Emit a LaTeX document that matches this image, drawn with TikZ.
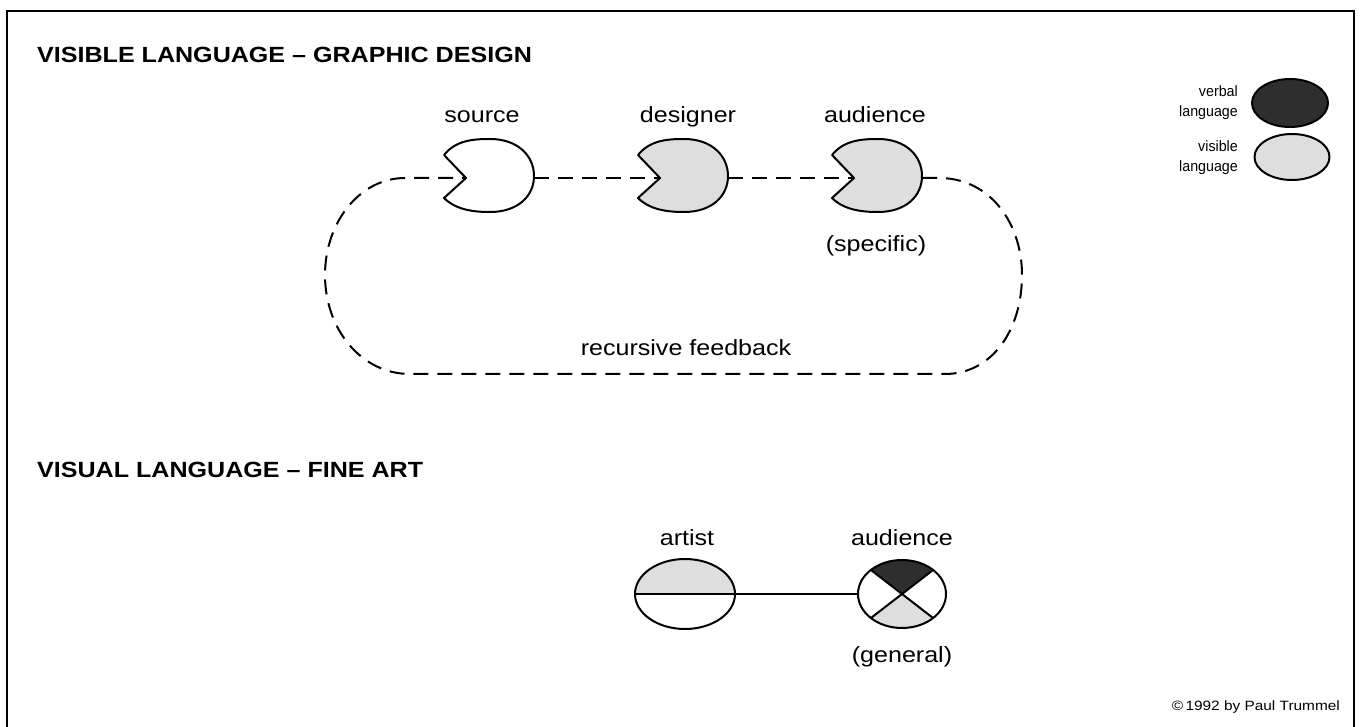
\documentclass[tikz,border=0pt]{standalone}
\usepackage{fontspec}
\setmainfont{Liberation Sans}[FakeStretch=1.14]
\newfontfamily\legendfont{Liberation Sans}[FakeStretch=0.95]
\usetikzlibrary{shapes.geometric}
\tikzset{
  shapeline/.style={line width=2pt, line join=round},
  thinline/.style={line width=1.6pt},
  dashline/.style={line width=2pt, dash pattern=on 15pt off 9pt},
  lbl/.style={font=\fontsize{22}{26}\selectfont, anchor=base, inner sep=0pt},
  ttl/.style={font=\fontsize{22}{26}\selectfont\bfseries, anchor=base west, inner sep=0pt},
  legtxt/.style={font=\legendfont\fontsize{15}{17}\selectfont, anchor=base east, inner sep=0pt},
  stip/.style={fill=black!13},
  darkfill/.style={fill=black!82},
}
\newcommand\pacshape[4]{%
  \draw[shapeline, fill=#4] (#2-44,#3-21) .. controls (#2-32,#3-36) and (#2-14,#3-37) .. (#2+2,#3-37)
    .. controls (#2+30,#3-37) and (#2+46,#3-20) .. (#2+46,#3)
    .. controls (#2+46,#3+20) and (#2+30,#3+36) .. (#2+2,#3+36)
    .. controls (#2-14,#3+36) and (#2-32,#3+34) .. (#2-44,#3+22)
    -- (#2-22,#3+2) -- cycle;
  \coordinate (#1-in) at (#2-22,#3+2);
  \coordinate (#1-out) at (#2+46,#3+2);%
}
\begin{document}
\begin{tikzpicture}[x=1pt, y=-1pt]
\useasboundingbox (0,0) rectangle (1361,727);
% frame
\draw[thinline] (7,727) -- (7,11) -- (1354,11) -- (1354,727);

% titles
\node[ttl] (t1) at (37,63) {VISIBLE LANGUAGE -- GRAPHIC DESIGN};
\node[ttl] (t2) at (37,477) {VISUAL LANGUAGE -- FINE ART};

% upper row shapes
\pacshape{src}{488}{176}{white}
\pacshape{des}{682}{176}{black!13}
\pacshape{aud}{876}{176}{black!13}

\node[lbl] (srcl) at (482,123) {source};
\node[lbl] (desl) at (688,123) {designer};
\node[lbl] (audl) at (875,123) {audience};
\node[lbl] (spec) at (876,252) {(specific)};
\node[lbl] (rec) at (686,356) {recursive feedback};

% connectors
\draw[dashline] (src-out) -- (des-in);
\draw[dashline] (des-out) -- (aud-in);
\draw[dashline] (aud-out) -- (942,178)
  .. controls (992,180) and (1022,225) .. (1022,275)
  .. controls (1022,330) and (992,374) .. (945,374)
  -- (410,374)
  .. controls (362,374) and (325,330) .. (325,275)
  .. controls (325,222) and (360,178) .. (405,178)
  -- (src-in);

% legend
\node[ellipse, draw, shapeline, darkfill, minimum width=76pt, minimum height=48pt, inner sep=0pt] (verbalkey) at (1290,103) {};
\node[ellipse, draw, shapeline, stip, minimum width=75pt, minimum height=46pt, inner sep=0pt] (visiblekey) at (1292,157) {};
\node[legtxt] (vb1) at (1238,97) {verbal};
\node[legtxt] (vb2) at (1238,117) {language};
\node[legtxt] (vs1) at (1238,152) {visible};
\node[legtxt] (vs2) at (1238,172) {language};

% lower row
\fill[stip] (635,594) arc[start angle=180, end angle=360, x radius=50, y radius=35] -- cycle;
\node[ellipse, draw, shapeline, minimum width=100pt, minimum height=70pt, inner sep=0pt] (artist) at (685,594) {};
\draw[shapeline] (artist.west) -- (artist.east);

\fill[darkfill] (902,594) -- ++(225:44 and 34) arc[start angle=225, end angle=315, x radius=44, y radius=34] -- cycle;
\fill[stip] (902,594) -- ++(45:44 and 34) arc[start angle=45, end angle=135, x radius=44, y radius=34] -- cycle;
\node[ellipse, draw, shapeline, minimum width=88pt, minimum height=68pt, inner sep=0pt] (gen) at (902,594) {};
\draw[shapeline] (gen.center) ++(225:44 and 34) -- ++(45:88 and 68);
\draw[shapeline] (gen.center) ++(315:44 and 34) -- ++(135:88 and 68);

\draw[shapeline] (artist.east) -- (gen.west);

\node[lbl] (artl) at (687,545) {artist};
\node[lbl] (aud2l) at (902,545) {audience};
\node[lbl] (genl) at (902,662) {(general)};

\node[font=\fontsize{13.5}{16}\selectfont, anchor=base east, inner sep=0pt] (copy) at (1340,710) {\textcopyright\,1992 by Paul Trummel};
\end{tikzpicture}
\end{document}
